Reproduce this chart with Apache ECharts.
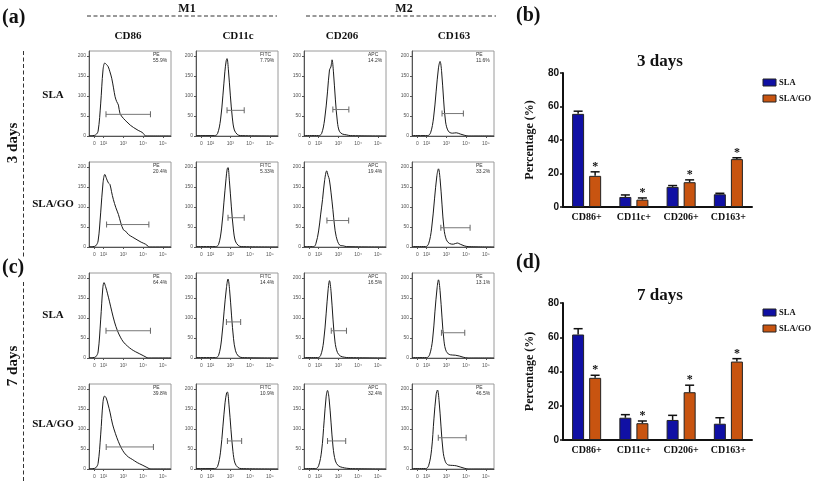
<!DOCTYPE html>
<html><head><meta charset="utf-8">
<script src="https://cdn.jsdelivr.net/npm/echarts@6/dist/echarts.min.js"></script>
<style>html,body{margin:0;padding:0;background:#fff}#c{width:813px;height:482px}</style>
</head><body><div id="c"></div>
<script>
// ---------- bar chart data ----------
const categories = ['CD86+', 'CD11c+', 'CD206+', 'CD163+'];
const seriesNames = ['SLA', 'SLA/GO'];
const sla3 = [55.6, 6.0, 12.0, 7.6];
const sla3Err = [1.6, 1.2, 0.8, 0.6];
const go3 = [18.6, 4.4, 14.8, 28.6];
const go3Err = [2.4, 1.0, 1.4, 0.8];
const sla7 = [61.6, 13.0, 11.7, 9.5];
const sla7Err = [3.4, 1.8, 2.7, 3.5];
const go7 = [36.3, 9.8, 27.9, 45.8];
const go7Err = [1.5, 1.3, 4.1, 1.7];

// ---------- flow histogram data (x = log decade position, y = count) ----------
const markers = ['CD86', 'CD11c', 'CD206', 'CD163'];
const channels = ['PE', 'FITC', 'APC', 'PE'];
const rowNames = ['SLA', 'SLA/GO', 'SLA', 'SLA/GO'];
const pct = [
  ['55.9%', '7.79%', '14.2%', '11.6%'],
  ['20.4%', '5.33%', '19.4%', '33.2%'],
  ['64.4%', '14.4%', '16.5%', '13.1%'],
  ['39.8%', '10.9%', '32.4%', '46.5%']
];
const xTickPos = [1.53, 2, 3, 4, 5];
const xTickText = ['0', '10²', '10³', '10⁴', '10⁵'];

const h1_cd86 = [[1.26,1],[1.45,1],[1.6,3],[1.72,12],[1.85,80],[1.97,165],[2.06,182],[2.15,178],[2.23,173],[2.32,160],[2.41,144],[2.5,120],[2.58,98],[2.66,86],[2.75,77],[2.83,56],[3.0,44],[3.18,35],[3.35,27],[3.52,21],[3.75,14],[3.95,9],[4.05,4],[4.12,0],[5.41,0]];
const h1_cd11c = [[1.26,1],[2.2,1],[2.35,6],[2.5,40],[2.62,100],[2.72,160],[2.79,188],[2.83,193],[2.9,165],[3.0,100],[3.1,45],[3.2,15],[3.35,4],[3.5,1],[5.41,0]];
const h1_cd206 = [[1.26,1],[2.0,1],[2.15,6],[2.3,40],[2.45,110],[2.55,165],[2.62,172],[2.68,190],[2.75,160],[2.85,90],[2.95,35],[3.05,12],[3.2,5],[3.4,3],[3.6,1],[5.41,0]];
const h1_cd163 = [[1.26,1],[2.05,1],[2.2,8],[2.35,45],[2.48,110],[2.6,170],[2.68,186],[2.76,160],[2.86,90],[2.96,35],[3.1,12],[3.3,7],[3.5,8],[3.7,5],[3.9,2],[4.1,0],[5.41,0]];
const h2_cd86 = [[1.26,1],[1.45,1],[1.6,3],[1.72,15],[1.85,85],[1.97,160],[2.06,181],[2.15,170],[2.24,160],[2.32,156],[2.4,138],[2.49,119],[2.62,98],[2.75,81],[2.87,60],[3.0,43],[3.1,40],[3.26,31],[3.45,25],[3.69,18],[3.9,12],[4.12,7],[4.25,2],[4.3,0],[5.41,0]];
const h2_cd11c = [[1.26,1],[2.25,1],[2.4,6],[2.55,45],[2.67,110],[2.78,170],[2.84,195],[2.88,198],[2.95,165],[3.05,100],[3.15,45],[3.25,15],[3.4,4],[3.55,1],[5.41,0]];
const h2_cd206 = [[1.26,1],[1.75,1],[1.86,8],[2.0,40],[2.1,80],[2.2,119],[2.3,165],[2.41,190],[2.48,178],[2.54,169],[2.63,135],[2.72,94],[2.8,55],[2.89,26],[3.06,5],[3.25,3],[3.4,1],[5.41,0]];
const h2_cd163 = [[1.26,1],[1.95,1],[2.1,8],[2.25,45],[2.4,120],[2.52,178],[2.6,195],[2.68,170],[2.78,105],[2.88,45],[3.0,18],[3.15,9],[3.35,7],[3.55,10],[3.7,7],[3.9,3],[4.1,1],[5.41,0]];
const h3_cd86 = [[1.26,1],[1.45,1],[1.6,3],[1.72,15],[1.85,95],[1.96,175],[2.02,188],[2.1,178],[2.2,160],[2.3,140],[2.42,115],[2.55,90],[2.7,68],[2.85,52],[3.0,40],[3.2,30],[3.4,22],[3.6,16],[3.8,11],[4.0,6],[4.15,2],[4.25,0],[5.41,0]];
const h3_cd11c = [[1.26,1],[2.25,1],[2.4,6],[2.55,45],[2.68,115],[2.8,175],[2.88,197],[2.96,170],[3.06,105],[3.16,48],[3.26,18],[3.4,5],[3.6,1],[5.41,0]];
const h3_cd206 = [[1.26,1],[1.95,1],[2.1,6],[2.25,40],[2.38,110],[2.48,170],[2.55,193],[2.63,165],[2.73,95],[2.83,40],[2.95,14],[3.1,5],[3.3,2],[3.5,1],[5.41,0]];
const h3_cd163 = [[1.26,1],[2.0,1],[2.15,8],[2.3,45],[2.42,115],[2.53,175],[2.6,195],[2.68,168],[2.78,100],[2.88,42],[3.0,16],[3.2,8],[3.45,7],[3.65,5],[3.85,2],[4.1,0],[5.41,0]];
const h4_cd86 = [[1.26,1],[1.45,1],[1.6,3],[1.72,14],[1.85,85],[1.97,168],[2.05,182],[2.13,177],[2.22,162],[2.33,140],[2.45,112],[2.6,88],[2.75,68],[2.9,52],[3.05,40],[3.25,30],[3.45,24],[3.7,16],[3.95,10],[4.15,5],[4.3,1],[4.4,0],[5.41,0]];
const h4_cd11c = [[1.26,1],[2.2,1],[2.35,6],[2.5,42],[2.62,105],[2.73,165],[2.81,190],[2.85,192],[2.93,160],[3.03,98],[3.13,44],[3.23,15],[3.38,4],[3.55,1],[5.41,0]];
const h4_cd206 = [[1.26,1],[1.85,1],[2.0,8],[2.15,45],[2.28,120],[2.38,180],[2.45,196],[2.53,175],[2.63,115],[2.73,55],[2.85,20],[3.0,8],[3.2,4],[3.4,2],[3.6,1],[5.41,0]];
const h4_cd163 = [[1.26,1],[1.95,1],[2.1,8],[2.25,48],[2.37,125],[2.48,185],[2.55,197],[2.63,170],[2.73,105],[2.83,45],[2.95,18],[3.1,10],[3.3,9],[3.5,8],[3.7,5],[3.9,2],[4.1,0],[5.41,0]];
const histograms = [
  [h1_cd86, h1_cd11c, h1_cd206, h1_cd163],
  [h2_cd86, h2_cd11c, h2_cd206, h2_cd163],
  [h3_cd86, h3_cd11c, h3_cd206, h3_cd163],
  [h4_cd86, h4_cd11c, h4_cd206, h4_cd163]
];
// gates: [start, end, height]
const gates = [
  [[2.12,4.37,54],[2.83,3.70,64],[2.72,3.53,66],[2.78,3.86,56]],
  [[2.15,4.29,56],[2.88,3.70,73],[2.42,3.52,66],[2.72,4.2,48]],
  [[2.12,4.37,68],[2.80,3.52,90],[2.64,3.41,68],[2.75,3.93,63]],
  [[2.13,4.52,55],[2.85,3.57,70],[2.45,3.37,70],[2.59,4.0,78]]
];

// ---------- layout ----------
const colLeft = [89, 196, 304, 412];
const rowTop = [51, 162, 273, 384];
const PW = 82, PH = 85;
const serif = '"Liberation Serif", "DejaVu Serif", serif';
const sans = '"Liberation Sans", Arial, sans-serif';
const BLUE = '#1010a4', ORANGE = '#c85410';

const grids = [], xAxes = [], yAxes = [], series = [], graphic = [];
let gi = 0;
for (let r = 0; r < 4; r++) {
  for (let c = 0; c < 4; c++) {
    grids.push({left: colLeft[c], top: rowTop[r], width: PW, height: PH, show: true, borderColor: '#9a9a9a', borderWidth: 1, containLabel: false});
    xAxes.push({gridIndex: gi, type: 'value', min: 1.26, max: 5.41,
      axisLine: {onZero: false, lineStyle: {color: '#555', width: 1}},
      axisTick: {show: true, length: 2, customValues: xTickPos, lineStyle: {color: '#555'}},
      splitLine: {show: false},
      axisLabel: {customValues: xTickPos, fontSize: 5, color: '#555', margin: 5, fontFamily: sans,
        formatter: v => { const i = xTickPos.findIndex(t => Math.abs(t - v) < 1e-6); return i >= 0 ? xTickText[i] : ''; }}
    });
    yAxes.push({gridIndex: gi, type: 'value', min: 0, max: 212, interval: 50,
      axisLine: {show: true, lineStyle: {color: '#555', width: 1}},
      axisTick: {show: true, length: 2, lineStyle: {color: '#555'}},
      splitLine: {show: false},
      axisLabel: {fontSize: 5, color: '#555', margin: 3, fontFamily: sans, showMaxLabel: false,
        formatter: v => v > 200 ? '' : String(v)}
    });
    series.push({type: 'line', xAxisIndex: gi, yAxisIndex: gi, data: histograms[r][c], smooth: 0.35,
      showSymbol: false, symbol: 'none', lineStyle: {color: '#1a1a1a', width: 1}, silent: true, z: 3});
    const g = gates[r][c];
    series.push({type: 'line', xAxisIndex: gi, yAxisIndex: gi, data: [[g[0], g[2]], [g[1], g[2]]],
      symbol: 'rect', symbolSize: [1, 6], showSymbol: true, itemStyle: {color: '#666'},
      lineStyle: {color: '#777', width: 1}, silent: true, z: 4});
    graphic.push({type: 'text', left: colLeft[c] + PW - 18, top: rowTop[r] + 1,
      style: {text: channels[c] + '\n' + pct[r][c], fontSize: 5, lineHeight: 6, fill: '#333', font: '5px ' + sans, align: 'center'}});
    gi++;
  }
}

// ---------- bar charts ----------
const barGrids = [
  {top: 73, height: 134, vals: [sla3, go3], errs: [sla3Err, go3Err], title: '3 days', titleTop: 48, legendTop: 79},
  {top: 303, height: 137, vals: [sla7, go7], errs: [sla7Err, go7Err], title: '7 days', titleTop: 282, legendTop: 309}
];
const titles = [];
const colors = [BLUE, ORANGE];
barGrids.forEach((b, k) => {
  grids.push({left: 563, top: b.top, width: 189, height: b.height, show: false});
  xAxes.push({gridIndex: gi, type: 'category', data: categories,
    axisLine: {lineStyle: {color: '#111', width: 2}},
    axisTick: {alignWithLabel: true, length: 3, lineStyle: {color: '#111', width: 1.5}},
    axisLabel: {interval: 0, fontFamily: serif, fontWeight: 'bold', fontSize: 10, color: '#111', margin: 5}
  });
  yAxes.push({gridIndex: gi, type: 'value', min: 0, max: 80, interval: 20,
    name: 'Percentage (%)', nameLocation: 'middle', nameGap: 27, nameRotate: 90,
    nameTextStyle: {fontFamily: serif, fontWeight: 'bold', fontSize: 12, color: '#111'},
    axisLine: {show: true, lineStyle: {color: '#111', width: 2}},
    axisTick: {show: true, length: 3, lineStyle: {color: '#111', width: 1.5}},
    splitLine: {show: false},
    axisLabel: {fontFamily: sans, fontWeight: 'bold', fontSize: 10, color: '#111', margin: 4}
  });
  const offsets = [-8.5, 8.5];
  [0, 1].forEach(s => {
    series.push({type: 'bar', name: seriesNames[s], xAxisIndex: gi, yAxisIndex: gi, data: b.vals[s],
      barWidth: 12, barGap: '42%', itemStyle: {color: colors[s], borderColor: '#222', borderWidth: 1}, z: 2});
    series.push({type: 'custom', xAxisIndex: gi, yAxisIndex: gi, silent: true, z: 5,
      data: b.vals[s].map((v, i) => [i, v, b.errs[s][i]]),
      renderItem: (params, api) => {
        const p0 = api.coord([api.value(0), api.value(1)]);
        const p1 = api.coord([api.value(0), api.value(1) + api.value(2)]);
        const x = p0[0] + offsets[s];
        const ch = [
          {type: 'line', shape: {x1: x, y1: p0[1], x2: x, y2: p1[1]}, style: {stroke: '#111', lineWidth: 1.5}},
          {type: 'line', shape: {x1: x - 4.5, y1: p1[1], x2: x + 4.5, y2: p1[1]}, style: {stroke: '#111', lineWidth: 1.5}}
        ];
        if (s === 1) ch.push({type: 'text', x: x, y: p1[1] - 5, style: {text: '*', fontSize: 12, fontWeight: 'bold', fill: '#111', align: 'center', verticalAlign: 'middle', fontFamily: serif}});
        return {type: 'group', children: ch};
      }
    });
    // legend (drawn as graphic)
    graphic.push({type: 'rect', shape: {x: 763, y: b.legendTop + s * 16, width: 13, height: 7},
      style: {fill: colors[s], stroke: '#222', lineWidth: 1}});
    graphic.push({type: 'text', x: 779, y: b.legendTop + s * 16 + 3.5,
      style: {text: seriesNames[s], font: 'bold 8.5px ' + serif, fill: '#111', verticalAlign: 'middle'}});
  });
  titles.push({text: b.title, left: 655, top: b.titleTop, textAlign: 'center',
    textStyle: {fontFamily: serif, fontWeight: 'bold', fontSize: 17, color: '#111'}});
  gi++;
});

// ---------- figure text ----------
const bold = (size) => 'bold ' + size + 'px ' + serif;
graphic.push(
  {type: 'text', left: 2, top: 8, style: {text: '(a)', font: bold(20), fill: '#111'}},
  {type: 'text', left: 516, top: 6, style: {text: '(b)', font: bold(20), fill: '#111'}},
  {type: 'text', left: 2, top: 258, style: {text: '(c)', font: bold(20), fill: '#111'}},
  {type: 'text', left: 516, top: 253, style: {text: '(d)', font: bold(20), fill: '#111'}},
  {type: 'text', x: 187, y: 9, style: {text: 'M1', font: bold(12), fill: '#111', align: 'center', verticalAlign: 'middle'}},
  {type: 'text', x: 404, y: 9, style: {text: 'M2', font: bold(12), fill: '#111', align: 'center', verticalAlign: 'middle'}},
  {type: 'line', shape: {x1: 87, y1: 16, x2: 277, y2: 16}, style: {stroke: '#333', lineWidth: 1, lineDash: [4, 2.5]}},
  {type: 'line', shape: {x1: 306, y1: 16, x2: 496, y2: 16}, style: {stroke: '#333', lineWidth: 1, lineDash: [4, 2.5]}},
  {type: 'line', shape: {x1: 23.5, y1: 51, x2: 23.5, y2: 257}, style: {stroke: '#333', lineWidth: 1, lineDash: [4, 2.5]}},
  {type: 'line', shape: {x1: 23.5, y1: 282, x2: 23.5, y2: 482}, style: {stroke: '#333', lineWidth: 1, lineDash: [4, 2.5]}},
  {type: 'text', x: 13, y: 143, rotation: Math.PI / 2, style: {text: '3 days', font: bold(15), fill: '#111', align: 'center', verticalAlign: 'middle'}},
  {type: 'text', x: 13, y: 366, rotation: Math.PI / 2, style: {text: '7 days', font: bold(15), fill: '#111', align: 'center', verticalAlign: 'middle'}}
);
const colCenters = [128, 238, 342, 454];
markers.forEach((m, c) => graphic.push({type: 'text', x: colCenters[c], y: 36, style: {text: m, font: bold(11), fill: '#111', align: 'center', verticalAlign: 'middle'}}));
const rowLabelY = [95, 204, 315, 424];
rowNames.forEach((n, r) => graphic.push({type: 'text', x: 53, y: rowLabelY[r], style: {text: n, font: bold(11), fill: '#111', align: 'center', verticalAlign: 'middle'}}));

const chart = echarts.init(document.getElementById('c'), null, {renderer: 'canvas'});
chart.setOption({
  backgroundColor: '#fff',
  animation: false,
  title: titles,
  grid: grids,
  xAxis: xAxes,
  yAxis: yAxes,
  series: series,
  graphic: graphic
});
</script></body></html>
